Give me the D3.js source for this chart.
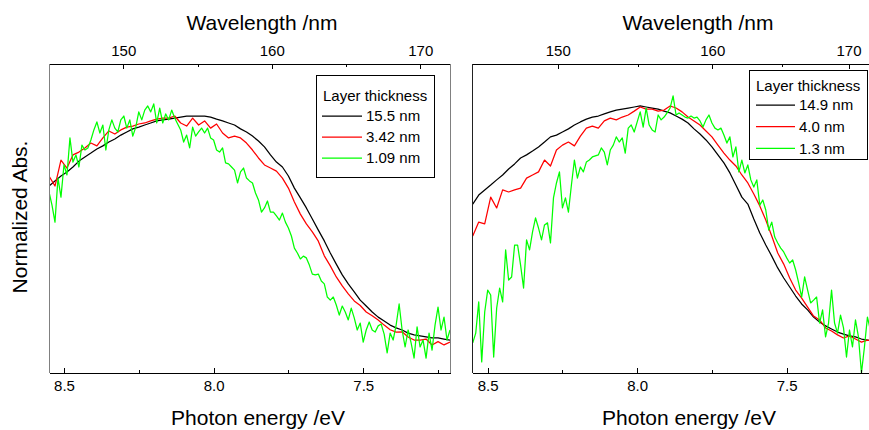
<!DOCTYPE html>
<html>
<head>
<meta charset="utf-8">
<script src="https://cdn.jsdelivr.net/npm/d3@7"></script>
<style>
    body { margin: 0; background: #fff; }
    svg text { font-family: Arial, "Liberation Sans", sans-serif; fill: #000; }
</style>
</head>
<body>
<div id="abs_chart"></div>
<script>
////
// DATA
////
// energy grids (eV) the spectra were sampled on
var energy_coarse = [
    8.55, 8.53, 8.51, 8.49, 8.47, 8.45, 8.43, 8.41, 8.39, 8.37,
    8.35, 8.33, 8.31, 8.29, 8.27, 8.25, 8.23, 8.21, 8.19, 8.17,
    8.15, 8.13, 8.11, 8.09, 8.07, 8.05, 8.03, 8.01, 7.99, 7.97,
    7.95, 7.93, 7.91, 7.89, 7.87, 7.85, 7.83, 7.81, 7.79, 7.77,
    7.75, 7.73, 7.71, 7.69, 7.67, 7.65, 7.63, 7.61, 7.59, 7.57,
    7.55, 7.53, 7.51, 7.49, 7.47, 7.45, 7.43, 7.41, 7.39, 7.37,
    7.35, 7.33, 7.31, 7.29, 7.27, 7.25, 7.23, 7.21];

var energy_fine = [
    8.55, 8.54, 8.53, 8.52, 8.51, 8.50, 8.49, 8.48, 8.47, 8.46,
    8.45, 8.44, 8.43, 8.42, 8.41, 8.40, 8.39, 8.38, 8.37, 8.36,
    8.35, 8.34, 8.33, 8.32, 8.31, 8.30, 8.29, 8.28, 8.27, 8.26,
    8.25, 8.24, 8.23, 8.22, 8.21, 8.20, 8.19, 8.18, 8.17, 8.16,
    8.15, 8.14, 8.13, 8.12, 8.11, 8.10, 8.09, 8.08, 8.07, 8.06,
    8.05, 8.04, 8.03, 8.02, 8.01, 8.00, 7.99, 7.98, 7.97, 7.96,
    7.95, 7.94, 7.93, 7.92, 7.91, 7.90, 7.89, 7.88, 7.87, 7.86,
    7.85, 7.84, 7.83, 7.82, 7.81, 7.80, 7.79, 7.78, 7.77, 7.76,
    7.75, 7.74, 7.73, 7.72, 7.71, 7.70, 7.69, 7.68, 7.67, 7.66,
    7.65, 7.64, 7.63, 7.62, 7.61, 7.60, 7.59, 7.58, 7.57, 7.56,
    7.55, 7.54, 7.53, 7.52, 7.51, 7.50, 7.49, 7.48, 7.47, 7.46,
    7.45, 7.44, 7.43, 7.42, 7.41, 7.40, 7.39, 7.38, 7.37, 7.36,
    7.35, 7.34, 7.33, 7.32, 7.31, 7.30, 7.29, 7.28, 7.27, 7.26,
    7.25, 7.24, 7.23, 7.22, 7.21];

// left panel
var left_labels = ["15.5 nm", "3.42 nm", "1.09 nm"];

var left_thick = [
    0.726, 0.746, 0.765, 0.781, 0.800, 0.823, 0.839, 0.854, 0.870, 0.882,
    0.897, 0.909, 0.924, 0.936, 0.948, 0.955, 0.963, 0.971, 0.979, 0.983,
    0.986, 0.990, 0.994, 0.998, 0.998, 0.998, 0.998, 0.994, 0.986, 0.979,
    0.971, 0.963, 0.948, 0.936, 0.920, 0.901, 0.878, 0.847, 0.819, 0.800,
    0.765, 0.718, 0.680, 0.641, 0.598, 0.555, 0.513, 0.466, 0.423, 0.381,
    0.346, 0.315, 0.283, 0.260, 0.237, 0.217, 0.202, 0.186, 0.175, 0.167,
    0.155, 0.148, 0.144, 0.140, 0.136, 0.136, 0.132, 0.128];

var left_mid = [
    0.765, 0.726, 0.827, 0.796, 0.847, 0.858, 0.874, 0.893, 0.882, 0.913,
    0.940, 0.928, 0.944, 0.955, 0.959, 0.967, 0.971, 0.979, 0.986, 0.990,
    0.990, 0.998, 0.971, 0.959, 0.990, 0.963, 0.979, 0.951, 0.967, 0.932,
    0.913, 0.920, 0.913, 0.893, 0.866, 0.835, 0.808, 0.796, 0.784, 0.757,
    0.718, 0.664, 0.617, 0.579, 0.548, 0.512, 0.455, 0.416, 0.373, 0.338,
    0.307, 0.280, 0.262, 0.237, 0.222, 0.206, 0.186, 0.168, 0.159, 0.160,
    0.140, 0.128, 0.128, 0.132, 0.109, 0.122, 0.109, 0.120];

var left_thin = [
    0.703, 0.652, 0.586, 0.757, 0.683, 0.808, 0.769, 0.913, 0.819, 0.847,
    0.800, 0.885, 0.866, 0.874, 0.905, 0.944, 0.975, 0.932, 0.963, 0.866,
    0.944, 0.983, 0.951, 0.936, 0.983, 0.998, 0.951, 0.983, 0.920, 0.955,
    1.014, 0.983, 1.021, 1.037, 1.014, 1.045, 0.971, 1.029, 0.971, 1.006,
    0.983, 1.021, 0.990, 0.967, 0.944, 0.897, 0.924, 0.874, 0.955, 0.920,
    0.936, 0.951, 0.932, 0.951, 0.913, 0.905, 0.866, 0.858, 0.874, 0.816,
    0.812, 0.800, 0.788, 0.738, 0.781, 0.796, 0.757, 0.746, 0.738, 0.699,
    0.672, 0.625, 0.641, 0.668, 0.625, 0.625, 0.610, 0.594, 0.621, 0.586,
    0.563, 0.532, 0.485, 0.466, 0.443, 0.454, 0.447, 0.419, 0.384, 0.381,
    0.384, 0.357, 0.346, 0.295, 0.283, 0.295, 0.264, 0.225, 0.260, 0.237,
    0.206, 0.252, 0.214, 0.167, 0.194, 0.120, 0.167, 0.198, 0.167, 0.159,
    0.183, 0.190, 0.151, 0.078, 0.155, 0.128, 0.186, 0.268, 0.167, 0.101,
    0.167, 0.117, 0.058, 0.179, 0.101, 0.128, 0.058, 0.155, 0.089, 0.186,
    0.256, 0.167, 0.217, 0.128, 0.167];

// right panel
var right_labels = ["14.9 nm", "4.0 nm", "1.3 nm"];

var right_thick = [
    0.656, 0.691, 0.711, 0.730, 0.750, 0.769, 0.792, 0.812, 0.835, 0.847,
    0.862, 0.878, 0.897, 0.917, 0.924, 0.936, 0.948, 0.963, 0.975, 0.986,
    0.994, 0.998, 1.006, 1.014, 1.021, 1.025, 1.029, 1.033, 1.037, 1.033,
    1.029, 1.025, 1.017, 1.010, 0.998, 0.986, 0.971, 0.948, 0.928, 0.905,
    0.878, 0.847, 0.816, 0.777, 0.730, 0.683, 0.656, 0.598, 0.544, 0.497,
    0.454, 0.408, 0.369, 0.334, 0.299, 0.268, 0.245, 0.217, 0.198, 0.183,
    0.171, 0.159, 0.151, 0.144, 0.140, 0.132, 0.128, 0.124];

var right_mid = [
    0.532, 0.586, 0.579, 0.683, 0.641, 0.711, 0.703, 0.711, 0.718, 0.757,
    0.769, 0.781, 0.827, 0.804, 0.866, 0.885, 0.897, 0.882, 0.920, 0.951,
    0.959, 0.951, 0.979, 0.990, 0.983, 0.994, 1.002, 1.017, 1.033, 1.025,
    1.025, 1.017, 1.021, 1.037, 1.029, 1.014, 0.994, 0.979, 0.963, 0.940,
    0.917, 0.885, 0.854, 0.827, 0.804, 0.769, 0.738, 0.695, 0.649, 0.594,
    0.532, 0.466, 0.423, 0.369, 0.322, 0.291, 0.256, 0.221, 0.206, 0.175,
    0.163, 0.148, 0.136, 0.144, 0.132, 0.120, 0.128, 0.124];

var right_thin = [
    0.117, 0.155, 0.276, 0.043, 0.237, 0.322, 0.303, 0.062, 0.252, 0.330,
    0.276, 0.478, 0.361, 0.373, 0.497, 0.497, 0.419, 0.330, 0.517, 0.478,
    0.548, 0.602, 0.563, 0.517, 0.575, 0.583, 0.505, 0.680, 0.738, 0.781,
    0.641, 0.680, 0.625, 0.730, 0.827, 0.757, 0.800, 0.781, 0.819, 0.827,
    0.839, 0.843, 0.847, 0.874, 0.858, 0.808, 0.866, 0.885, 0.917, 0.897,
    0.913, 0.854, 0.951, 0.963, 0.936, 0.975, 1.014, 0.955, 1.029, 0.963,
    0.944, 0.936, 1.002, 0.983, 0.994, 1.010, 1.029, 1.076, 1.002, 1.010,
    1.002, 0.994, 0.990, 0.998, 0.990, 0.994, 0.979, 0.955, 0.983, 1.002,
    0.971, 0.951, 0.944, 0.951, 0.924, 0.893, 0.917, 0.839, 0.878, 0.781,
    0.827, 0.777, 0.808, 0.750, 0.722, 0.750, 0.652, 0.672, 0.633, 0.555,
    0.586, 0.528, 0.505, 0.485, 0.470, 0.447, 0.427, 0.439, 0.400, 0.350,
    0.295, 0.373, 0.322, 0.272, 0.283, 0.295, 0.194, 0.245, 0.140, 0.194,
    0.322, 0.194, 0.155, 0.225, 0.175, 0.062, 0.167, 0.101, 0.206, 0.140,
    0.000, 0.101, 0.217, 0.167, 0.186];

// ticks
var energy_major = [8.5, 8.0, 7.5];
var energy_minor = [8.25, 7.75, 7.25];
var wl_major = [150, 160, 170];
var wl_minor = [155, 165];

var series_colors = ["#000000", "#ff0000", "#00ff00"];

////
// CONTAINER
////
const full_width = 869, full_height = 430;
const plot_top = 64, plot_bottom = 373;

const abs_svg = d3.select("#abs_chart")
    .append("svg")
    .attr("width", full_width)
    .attr("height", full_height);

var abs_y = d3.scaleLinear().domain([0, 1.2]).range([plot_bottom, plot_top]);

var line_maker = function (x_scale, energies) {
    return d3.line()
        .x((d, i) => x_scale(energies[i]))
        .y(d => abs_y(d));
}

function draw_panel(cfg) {
    var g = abs_svg.append("g");
    var x = cfg.x;
    var left = x.range()[0], right = x.range()[1];

    g.append("clipPath").attr("id", cfg.id + "_clip")
        .append("rect")
        .attr("x", left).attr("y", plot_top)
        .attr("width", right - left).attr("height", plot_bottom - plot_top);

    // curves, thickest first so the noisy thin film sits on top
    var curves = g.append("g").attr("clip-path", "url(#" + cfg.id + "_clip)");
    cfg.series.forEach((vals, i) => {
        var energies = i == 2 ? energy_fine : energy_coarse;
        curves.append("path")
            .datum(vals)
            .attr("fill", "none")
            .attr("stroke", series_colors[i])
            .attr("stroke-width", 1.25)
            .attr("stroke-linejoin", "round")
            .attr("d", line_maker(x, energies));
    });

    // bottom axis, ticks inward
    var bottom = g.append("g").attr("transform", "translate(0," + plot_bottom + ")");
    bottom.call(d3.axisBottom(x).tickValues(energy_major).tickFormat(d3.format(".1f"))
        .tickSizeInner(-5).tickSizeOuter(0).tickPadding(7));
    bottom.append("g").call(d3.axisBottom(x).tickValues(energy_minor).tickFormat("")
        .tickSizeInner(-3).tickSizeOuter(0))
        .select(".domain").remove();

    // top axis (wavelength)
    var top = g.append("g").attr("transform", "translate(0," + plot_top + ")");
    top.call(d3.axisTop(cfg.wl).tickValues(wl_major).tickFormat(d3.format("d"))
        .tickSizeInner(-5).tickSizeOuter(0).tickPadding(8));
    top.append("g").call(d3.axisTop(cfg.wl).tickValues(wl_minor).tickFormat("")
        .tickSizeInner(-3).tickSizeOuter(0))
        .select(".domain").remove();

    g.selectAll(".tick text").style("font-size", "15px").style("font-family", "Arial, 'Liberation Sans', sans-serif");
    g.selectAll(".domain, .tick line").attr("stroke", "#000").attr("shape-rendering", "crispEdges");

    // vertical frame lines
    cfg.sides.forEach(s => {
        g.append("line")
            .attr("x1", s.x).attr("x2", s.x)
            .attr("y1", plot_top).attr("y2", plot_bottom)
            .attr("stroke", s.color)
            .attr("shape-rendering", "crispEdges");
    });

    // titles
    g.append("text")
        .attr("x", cfg.top_title_x).attr("y", 30)
        .attr("text-anchor", "middle")
        .style("font-size", "21px")
        .text("Wavelength /nm");
    g.append("text")
        .attr("x", cfg.bottom_title_x).attr("y", 425)
        .attr("text-anchor", "middle")
        .style("font-size", "21px")
        .text("Photon energy /eV");

    // legend
    var lg = cfg.legend;
    var leg = g.append("g").attr("transform", "translate(" + lg.x + "," + lg.y + ")");
    leg.append("rect")
        .attr("width", lg.w).attr("height", lg.h)
        .attr("fill", "#fff").attr("stroke", "#000")
        .attr("shape-rendering", "crispEdges");
    leg.append("text")
        .attr("x", lg.pad).attr("y", lg.title_y)
        .style("font-size", "15px")
        .text("Layer thickness");
    var rows = leg.selectAll(".leg_row")
        .data(cfg.labels)
        .enter()
        .append("g").attr("class", "leg_row")
        .attr("transform", (d, i) => "translate(0," + (lg.row_y + i * lg.row_step) + ")");
    rows.append("line")
        .attr("x1", lg.line_x).attr("x2", lg.line_x + lg.line_len)
        .attr("stroke", (d, i) => series_colors[i])
        .attr("stroke-width", 1.25);
    rows.append("text")
        .attr("x", lg.line_x + lg.line_len + 4)
        .attr("y", 5.4)
        .style("font-size", "15px")
        .text(d => d);
}

////
// PANELS
////
var left_x = d3.scaleLinear().domain([8.55, 7.21]).range([49, 450]);
var left_wl = d3.scaleLinear().domain([145, 172]).range([49, 450]);

draw_panel({
    id: "left",
    x: left_x,
    wl: left_wl,
    series: [left_thick, left_mid, left_thin],
    labels: left_labels,
    sides: [{ x: 49, color: "#808080" }, { x: 450, color: "#808080" }],
    top_title_x: 262,
    bottom_title_x: 258,
    legend: { x: 316, y: 75, w: 118, h: 102, pad: 7, title_y: 26, line_x: 6, line_len: 40, row_y: 41, row_step: 21 }
});

var right_x = d3.scaleLinear().domain([8.5515, 7.2]).range([472.3, 876.4]);

// wavelength axis on the right is the photon-energy conversion of the bottom axis
var right_wl = function (v) { return right_x(1239.84 / v); };
right_wl.range = () => right_x.range();
right_wl.domain = () => [1239.84 / 8.5515, 1239.84 / 7.2];
right_wl.copy = () => right_wl;

draw_panel({
    id: "right",
    x: right_x,
    wl: right_wl,
    series: [right_thick, right_mid, right_thin],
    labels: right_labels,
    sides: [{ x: 472, color: "#222" }],
    top_title_x: 698,
    bottom_title_x: 689,
    legend: { x: 749, y: 70, w: 118, h: 89, pad: 7, title_y: 21, line_x: 7, line_len: 39, row_y: 35, row_step: 21.7 }
});

// shared y title, no tick labels on this axis
abs_svg.append("text")
    .attr("transform", "translate(27,217) rotate(-90)")
    .attr("text-anchor", "middle")
    .style("font-size", "21px")
    .text("Normalized Abs.");
</script>
</body>
</html>
